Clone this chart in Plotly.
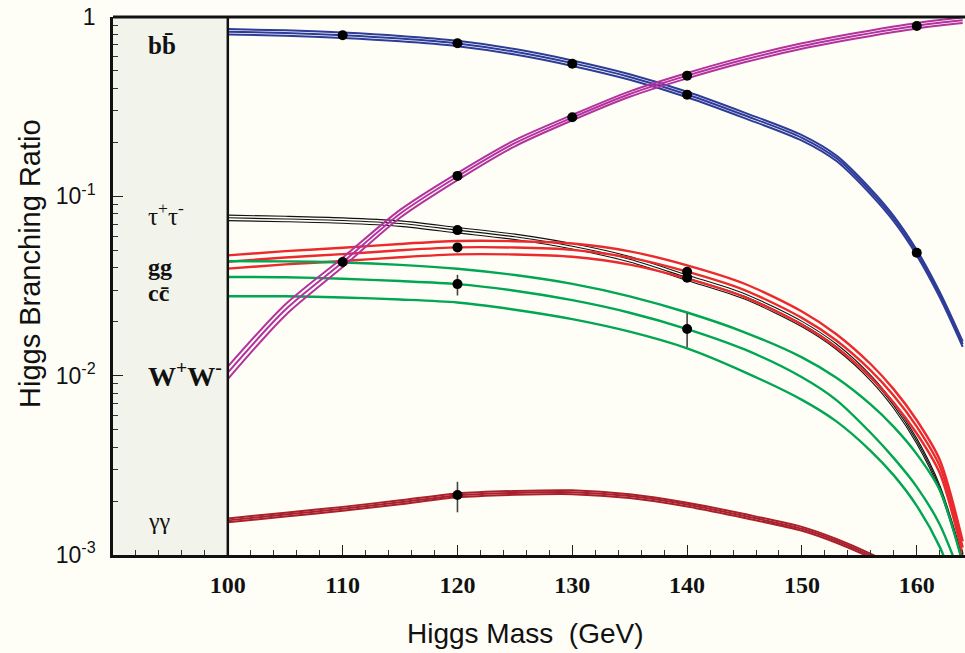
import math
import plotly.graph_objects as go

# ---------------- data ----------------
MASS = [100, 105, 110, 115, 120, 125, 130, 135, 140, 145, 150, 153, 156, 158, 160, 162, 164]

BR_BB = [0.828, 0.814, 0.791, 0.758, 0.712, 0.640, 0.553, 0.463, 0.370, 0.283, 0.212,
         0.163, 0.106, 0.075, 0.0485, 0.0283, 0.0150]
BR_WW = [0.0104, 0.0233, 0.0429, 0.0800, 0.1290, 0.198, 0.275, 0.372, 0.471, 0.579, 0.689,
         0.752, 0.813, 0.855, 0.895, 0.929, 0.959]
BR_TT = [0.0759, 0.0748, 0.0733, 0.0705, 0.0648, 0.0595, 0.0527, 0.0446, 0.0352, 0.0277,
         0.0194, 0.0145, 0.0097, 0.0068, 0.00432, 0.00237, 0.00094]
BR_GG = [0.0432, 0.0456, 0.0476, 0.0500, 0.0519, 0.0518, 0.0503, 0.0455, 0.0380, 0.0300,
         0.0210, 0.0157, 0.01067, 0.00773, 0.0052, 0.00313, 0.0011]
BR_CC_HI = [0.0435, 0.0434, 0.0428, 0.0415, 0.0395, 0.0364, 0.0325, 0.0277, 0.0225, 0.01746,
            0.01265, 0.00973, 0.00689, 0.00518, 0.00365, 0.0023, 0.0009]
BR_CC = [0.0355, 0.0354, 0.0347, 0.0337, 0.0324, 0.02975, 0.02636, 0.02244, 0.0182, 0.0140,
         0.0098, 0.00731, 0.00479, 0.00347, 0.0024, 0.00148, 0.00071]
BR_CC_LO = [0.0277, 0.0277, 0.0273, 0.0266, 0.0256, 0.02333, 0.02067, 0.01759, 0.0142, 0.01047,
            0.00733, 0.00556, 0.0038, 0.00278, 0.00188, 0.00111, 0.00051]
BR_AA = [0.00156, 0.00168, 0.00181, 0.00197, 0.00215, 0.00222, 0.00224, 0.00213, 0.00191,
         0.00165, 0.00140, 0.00120, 0.00099, 0.00085, 0.00070, 0.00055, 0.00042]

# relative half-widths of the theory bands
UNC_BB = [0.035] * len(MASS)
UNC_WW = [0.08, 0.07, 0.06, 0.05, 0.045, 0.04, 0.035, 0.035, 0.035, 0.035, 0.035,
          0.035, 0.035, 0.035, 0.035, 0.035, 0.035]
UNC_TT = [0.035] * len(MASS)
UNC_GG = [0.085] * len(MASS)
UNC_AA = [0.025] * len(MASS)

# measured points: (mass, value, err_up, err_down)
PTS_BB = ([110, 120, 130, 140, 160], [0.791, 0.714, 0.549, 0.369, 0.0485], [0, 0, 0, 0, 0], [0, 0, 0, 0, 0])
PTS_WW = ([110, 120, 130, 140, 160], [0.0430, 0.130, 0.276, 0.471, 0.891], [0.003, 0, 0, 0, 0], [0.003, 0, 0, 0, 0])
PTS_TT = ([120, 140], [0.0648, 0.0352], [0, 0.0012], [0, 0.0012])
PTS_GG = ([120, 140], [0.0519, 0.0380], [0, 0.0015], [0, 0.0015])
PTS_CC = ([120, 140], [0.0324, 0.0182], [0.0041, 0.0041], [0.0044, 0.0038])
PTS_AA = ([120], [0.00216], [0.00040], [0.00043])

X_TICKS = [100, 110, 120, 130, 140, 150, 160]
Y_TICKS = [0.001, 0.01, 0.1, 1]
Y_TICK_TEXT = ["10<sup>-3</sup>", "10<sup>-2</sup>", "10<sup>-1</sup>", "1"]

# ---------------- styling ----------------
BG = "#FEFEF7"
PANEL = "#F2F3EA"
SERIF = "Liberation Serif, Times New Roman, serif"
SANS = "Liberation Sans, Arial, sans-serif"

fig = go.Figure()


def add_lines(series, color, width):
    for ys in series:
        fig.add_trace(go.Scatter(x=MASS, y=ys, mode="lines",
                                 line=dict(color=color, width=width, shape="spline", smoothing=0.8),
                                 hoverinfo="skip", showlegend=False))


def band(center, unc, color, width):
    hi = [c * (1 + u) for c, u in zip(center, unc)]
    lo = [c * (1 - u) for c, u in zip(center, unc)]
    add_lines((lo, center, hi), color, width)


band(BR_AA, UNC_AA, "#A91F2B", 2.0)
band(BR_TT, UNC_TT, "#111111", 1.1)
band(BR_GG, UNC_GG, "#EB2A2E", 2.4)
add_lines((BR_CC_LO, BR_CC, BR_CC_HI), "#00A651", 2.4)
band(BR_BB, UNC_BB, "#2E3C99", 2.0)
band(BR_WW, UNC_WW, "#B3329E", 2.0)

for pts in (PTS_BB, PTS_WW, PTS_TT, PTS_GG, PTS_CC, PTS_AA):
    fig.add_trace(go.Scatter(
        x=pts[0], y=pts[1], mode="markers",
        marker=dict(color="black", size=10),
        error_y=dict(type="data", array=pts[2], arrayminus=pts[3], symmetric=False,
                     color="#444444", thickness=1.6, width=0),
        hoverinfo="skip", showlegend=False))

# grey label panel
fig.add_shape(type="rect", xref="x", yref="paper", x0=90, x1=100, y0=0, y1=1,
              fillcolor=PANEL, line=dict(width=0), layer="below")
fig.add_shape(type="line", xref="x", yref="paper", x0=100, x1=100, y0=0, y1=1,
              line=dict(color="#111111", width=2.5))
fig.add_shape(type="line", xref="paper", yref="paper", x0=0, x1=1, y0=1, y1=1,
              line=dict(color="#111111", width=3))

labels = [
    ("<b>bb\u0304</b>", 0.69, 25),
    ("\u03c4<sup>+</sup>\u03c4<sup>-</sup>", 0.080, 25),
    ("<b>gg</b>", 0.0405, 24),
    ("<b>cc\u0304</b>", 0.029, 24),
    ("<b>W<sup>+</sup>W<sup>-</sup></b>", 0.0101, 28),
    ("\u03b3\u03b3", 0.00154, 24),
]
for txt, yv, sz in labels:
    fig.add_annotation(x=92.9, y=math.log10(yv), xref="x", yref="y", text=txt,
                       showarrow=False, xanchor="left", yanchor="middle",
                       font=dict(family=SERIF, size=sz, color="#111111"))

fig.add_annotation(x=0.4836, y=-0.145, xref="paper", yref="paper", text="Higgs Mass  (GeV)",
                   showarrow=False, xanchor="center", yanchor="middle",
                   font=dict(family=SANS, size=28, color="#111111"))
fig.add_annotation(x=-0.0974, y=0.541, xref="paper", yref="paper", text="Higgs Branching Ratio",
                   showarrow=False, xanchor="center", yanchor="middle", textangle=-90,
                   font=dict(family=SANS, size=29, color="#111111"))

minor_y = [m * 10 ** e for e in (-3, -2, -1) for m in range(2, 10)]
minor_x = [v for v in range(92, 165, 2) if v % 10 != 0]

fig.update_layout(
    width=965, height=653,
    margin=dict(l=113, r=0, t=17, b=98, autoexpand=False),
    paper_bgcolor=BG, plot_bgcolor=BG,
    showlegend=False,
    xaxis=dict(range=[90, 164.2], showgrid=False, zeroline=False, automargin=False,
               showline=True, linecolor="#111111", linewidth=2.5,
               ticks="inside", ticklen=10, tickwidth=1.2, tickcolor="#222222",
               tickmode="array", tickvals=X_TICKS,
               tickfont=dict(family=SERIF, size=24, color="#111111", weight="bold"),
               ticklabelstandoff=6,
               minor=dict(ticks="inside", ticklen=5, tickwidth=1, tickcolor="#333333",
                          tickmode="array", tickvals=minor_x, showgrid=False)),
    yaxis=dict(type="log", range=[-3, 0], showgrid=False, zeroline=False, automargin=False,
               showline=True, linecolor="#111111", linewidth=2.5,
               ticks="inside", ticklen=10, tickwidth=1.2, tickcolor="#222222",
               tickmode="array", tickvals=Y_TICKS, ticktext=Y_TICK_TEXT,
               tickfont=dict(family=SANS, size=23, color="#111111"),
               ticklabelstandoff=10,
               minor=dict(ticks="inside", ticklen=5, tickwidth=1, tickcolor="#333333",
                          tickmode="array", tickvals=minor_y, showgrid=False)),
)

fig.write_html("out.html",
               config={"displayModeBar": False},
               post_script="document.body.style.margin='0';"
                           "document.body.style.background='" + BG + "';")
